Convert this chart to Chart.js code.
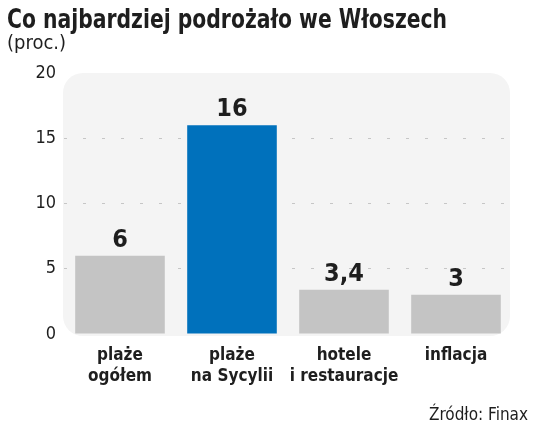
<!DOCTYPE html>
<html>
<head>
<meta charset="utf-8">
<script src="https://cdn.jsdelivr.net/npm/chart.js@4/dist/chart.umd.min.js"></script>
<style>
  html, body { margin: 0; padding: 0; background: #fff; }
  #wrap { width: 536px; height: 428px; position: relative; }
</style>
</head>
<body>
<div id="wrap"><canvas id="chart"></canvas></div>
<script>
// Co najbardziej podrożało we Włoszech - bar chart
const categories = [['plaże', 'ogółem'], ['plaże', 'na Sycylii'], ['hotele', 'i restauracje'], ['inflacja']];
const values = [6, 16, 3.4, 3];
const barColors = ['#c4c4c4', '#0071bc', '#c4c4c4', '#c4c4c4'];
const yTicks = [0, 5, 10, 15, 20];

const FONT = "'Liberation Sans Narrow', 'DejaVu Sans Condensed', 'Roboto Condensed', sans-serif";
const INK = '#1e1e1e';

// grey rounded panel behind the plot
const panelPlugin = {
  id: 'panel',
  beforeDraw(chart) {
    const { ctx, chartArea: a } = chart;
    ctx.save();
    ctx.fillStyle = '#f4f4f4';
    ctx.beginPath();
    ctx.roundRect(a.left - 1, a.top, a.right - a.left - 1, a.bottom - a.top + 2, 20);
    ctx.fill();
    ctx.restore();
  }
};

// title, unit, source and value labels
const textPlugin = {
  id: 'texts',
  afterDraw(chart) {
    const { ctx } = chart;
    ctx.save();
    ctx.fillStyle = INK;
    ctx.textBaseline = 'alphabetic';
    ctx.textAlign = 'left';
    // title squeezed a bit to match the condensed face of the original
    ctx.save();
    ctx.translate(7, 28);
    ctx.scale(0.87, 1);
    ctx.font = `bold 26px ${FONT}`;
    ctx.fillText('Co najbardziej podrożało we Włoszech', 0, 0);
    ctx.restore();
    ctx.font = `20px ${FONT}`;
    ctx.fillText('(proc.)', 7, 49);
    ctx.textAlign = 'right';
    ctx.font = `17px ${FONT}`;
    ctx.fillText('Źródło: Finax', 528, 420);

    const meta = chart.getDatasetMeta(0);
    ctx.textAlign = 'center';
    ctx.font = `bold 25px ${FONT}`;
    meta.data.forEach((bar, i) => {
      ctx.fillText(String(values[i]).replace('.', ','), bar.x, bar.y - 9);
    });
    ctx.restore();
  }
};

new Chart(document.getElementById('chart'), {
  type: 'bar',
  data: {
    labels: categories,
    datasets: [{
      data: values,
      backgroundColor: barColors,
      borderWidth: 0,
      barPercentage: 0.8,
      categoryPercentage: 1.0
    }]
  },
  options: {
    responsive: true,
    maintainAspectRatio: false,
    animation: false,
    layout: { padding: { top: 73, right: 24, bottom: 34, left: 0 } },
    plugins: {
      legend: { display: false },
      tooltip: { enabled: false }
    },
    scales: {
      x: {
        grid: { display: false, drawTicks: false },
        border: { display: false },
        ticks: {
          color: INK,
          padding: 11,
          font: { family: FONT, size: 17, weight: 'bold', lineHeight: 1.25 },
          maxRotation: 0,
          autoSkip: false
        },
        afterFit(scale) { scale.height = 60; }
      },
      y: {
        min: 0,
        max: 20,
        afterBuildTicks(scale) { scale.ticks = yTicks.map(v => ({ value: v })); },
        grid: {
          drawTicks: false,
          color: ctx => (ctx.tick && (ctx.tick.value === 0 || ctx.tick.value === 20)) ? 'rgba(0,0,0,0)' : '#c6c6c6',
          lineWidth: 1
        },
        border: { display: false, dash: [3, 16] },
        ticks: {
          color: INK,
          padding: 8,
          font: { family: FONT, size: 18 }
        },
        afterFit(scale) { scale.width = 64; }
      }
    }
  },
  plugins: [panelPlugin, textPlugin]
});
</script>
</body>
</html>
